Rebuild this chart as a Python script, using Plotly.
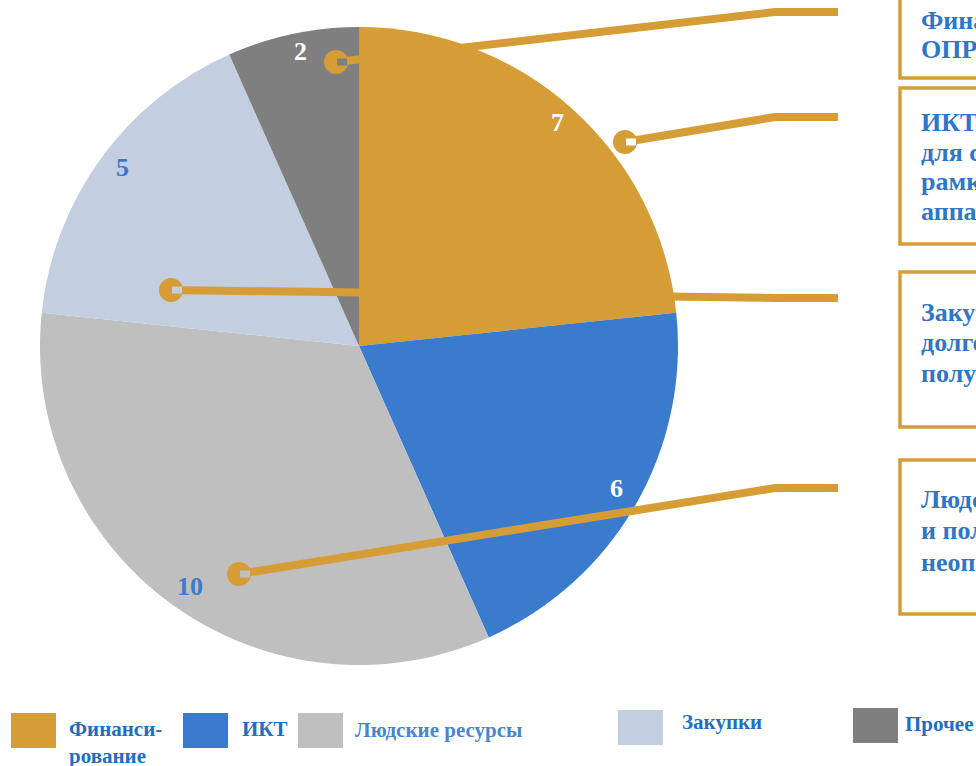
import plotly.graph_objects as go

W, H = 976, 766

# Slice data
categories = ["Финансирование", "ИКТ", "Людские ресурсы", "Закупки", "Прочее"]
values = [7, 6, 10, 5, 2]
colors = ["#D69D37", "#3A7BCE", "#BFBFBF", "#C3CEE1", "#7F7F7F"]
label_colors = ["white", "white", "#3A7BCE", "#3A7BCE", "white"]
legend_labels = ["Финанси-<br>рование", "ИКТ", "Людские ресурсы", "Закупки", "Прочее"]

# Call-out box texts (one list per box, one string per line)
callout_lines = [
    ["Финансирование", "ОПР"],
    ["ИКТ и средства связи", "для сотрудников в", "рамках деятельности", "аппарата"],
    ["Закупки товаров", "долгосрочного", "получения"],
    ["Людские ресурсы", "и политика", "неоплачиваемых"],
]

GOLD = colors[0]
TEXT_BLUE = "#2F76C7"
LEGEND_BLUE = "#1F6FC0"
SERIF = "Liberation Serif, Times New Roman, serif"


def px(x):
    return x / W


def py(y):
    return 1 - y / H


# Pie geometry (pixels)
CX, CY, R = 359, 346, 319

fig = go.Figure()
fig.add_trace(go.Pie(
    labels=categories,
    values=values,
    sort=False,
    direction="clockwise",
    rotation=0,
    marker=dict(colors=colors, line=dict(width=0)),
    textinfo="none",
    hoverinfo="label+value",
    showlegend=False,
    domain=dict(x=[px(CX - R), px(CX + R)], y=[py(CY + R), py(CY - R)]),
))

shapes = []
annotations = []

# Value labels on the slices
label_pos = [(557, 122), (616, 488), (190, 586), (122, 167), (300, 51)]
for v, (lx, ly), c in zip(values, label_pos, label_colors):
    annotations.append(dict(
        x=px(lx), y=py(ly), xref="paper", yref="paper", text=f"<b>{v}</b>",
        showarrow=False, xanchor="center", yanchor="middle",
        font=dict(family=SERIF, size=26, color=c),
    ))

# Leader lines: dot position, elbow, end, background under the dot
leaders = [
    ((336, 62), (775, 12), (838, 12), colors[4]),
    ((625, 142), (775, 117), (838, 117), "white"),
    ((171, 290), (775, 298), (838, 298), colors[3]),
    ((239, 574), (775, 488), (838, 488), colors[2]),
]
for (dx, dy), (ex, ey), (fx, fy), bg in leaders:
    shapes.append(dict(
        type="path", xref="paper", yref="paper", layer="above",
        path=f"M {px(dx)},{py(dy)} L {px(ex)},{py(ey)} L {px(fx)},{py(fy)}",
        line=dict(color=GOLD, width=8),
    ))
    shapes.append(dict(
        type="circle", xref="paper", yref="paper", layer="above",
        x0=px(dx - 12), x1=px(dx + 12), y0=py(dy + 12), y1=py(dy - 12),
        fillcolor=GOLD, line=dict(width=0),
    ))
    shapes.append(dict(
        type="rect", xref="paper", yref="paper", layer="above",
        x0=px(dx + 1), x1=px(dx + 11), y0=py(dy + 3.5), y1=py(dy - 3.5),
        fillcolor=bg, line=dict(width=0),
    ))

# Call-out boxes
boxes = [(-6, 78), (88, 244), (272, 427), (460, 614)]
line_centers = [[20, 49], [123, 153, 182, 211], [312, 343, 373], [499, 530, 562]]
for (y0, y1), lines, centers in zip(boxes, callout_lines, line_centers):
    shapes.append(dict(
        type="rect", xref="paper", yref="paper", layer="above",
        x0=px(900), x1=px(1010), y0=py(y1), y1=py(y0),
        fillcolor="rgba(0,0,0,0)", line=dict(color=GOLD, width=3.5),
    ))
    for txt, cy in zip(lines, centers):
        annotations.append(dict(
            x=px(919), y=py(cy), xref="paper", yref="paper", text=f"<b>{txt}</b>",
            showarrow=False, xanchor="left", yanchor="middle",
            font=dict(family=SERIF, size=26, color=TEXT_BLUE),
        ))

# Custom legend
legend_boxes = [(11, 713), (183, 713), (298, 713), (618, 710), (853, 708)]
legend_text_pos = [(67, 715, "top"), (240, 729, "middle"), (353, 730, "middle"),
                   (680, 722, "middle"), (903, 724, "middle")]
legend_text_colors = [LEGEND_BLUE, LEGEND_BLUE, "#4A86D0", LEGEND_BLUE, LEGEND_BLUE]
for (bx, by), c, lab, (tx, ty, anc), tc in zip(legend_boxes, colors, legend_labels,
                                             legend_text_pos, legend_text_colors):
    shapes.append(dict(
        type="rect", xref="paper", yref="paper", layer="above",
        x0=px(bx), x1=px(bx + 45), y0=py(by + 35), y1=py(by),
        fillcolor=c, line=dict(width=0),
    ))
    annotations.append(dict(
        x=px(tx), y=py(ty), xref="paper", yref="paper", text=f"<b>{lab}</b>",
        showarrow=False, xanchor="left", yanchor=anc, align="left",
        font=dict(family=SERIF, size=21, color=tc),
    ))

fig.update_layout(
    width=W, height=H,
    margin=dict(l=0, r=0, t=0, b=0),
    paper_bgcolor="white", plot_bgcolor="white",
    shapes=shapes, annotations=annotations,
)

fig.write_html("out.html")
